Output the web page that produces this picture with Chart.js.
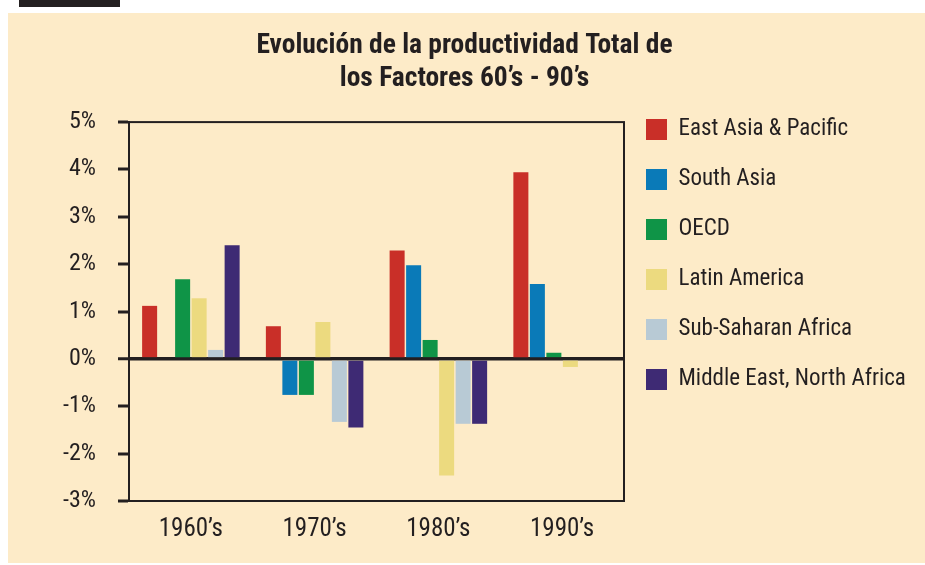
<!DOCTYPE html>
<html>
<head>
<meta charset="utf-8">
<script src="https://cdn.jsdelivr.net/npm/chart.js@4"></script>
<style>
  html, body { margin: 0; padding: 0; background: #ffffff; }
  #wrap { position: relative; width: 925px; height: 565px; overflow: hidden; }
  #tab { position: absolute; left: 19px; top: 0; width: 101px; height: 7px; background: #231f20; }
  #panel { position: absolute; left: 8px; top: 13px; width: 917px; height: 550px; background: #fdebc8; }
  #chart { position: absolute; left: 0; top: 0; }
</style>
</head>
<body>
<div id="wrap">
  <div id="tab"></div>
  <div id="panel"></div>
  <canvas id="chart" width="925" height="565"></canvas>
</div>
<script>
const decades = ["1960’s", "1970’s", "1980’s", "1990’s"];
const yTicks = [-3, -2, -1, 0, 1, 2, 3, 4, 5];

// valores (%)
const eastAsia    = [1.12, 0.69, 2.29, 3.94];
const southAsia   = [null, -0.76, 1.98, 1.58];
const oecd        = [1.68, -0.76, 0.40, 0.13];
const latinAm     = [1.28, 0.78, -2.46, -0.17];
const subSahara   = [0.19, -1.33, -1.37, null];
const middleEast  = [2.40, -1.45, -1.37, null];

const seriesNames = ["East Asia & Pacific", "South Asia", "OECD", "Latin America", "Sub-Saharan Africa", "Middle East, North Africa"];
const seriesColors = ["#c92f28", "#0a7ab8", "#0f9447", "#ecda7f", "#b8cad5", "#3e2a74"];

const ink = "#231f20";
const narrow = "'Roboto Condensed', 'DejaVu Sans Condensed', sans-serif";

const allSeries = [eastAsia, southAsia, oecd, latinAm, subSahara, middleEast];

// marco del área de dibujo
const frameBox = {
    id: "frameBox",
    afterDatasetsDraw(chart) {
        const { ctx, chartArea: a } = chart;
        ctx.save();
        ctx.strokeStyle = ink;
        ctx.lineWidth = 2;
        ctx.strokeRect(a.left, a.top, a.right - a.left, a.bottom - a.top);
        ctx.restore();
    }
};

// la leyenda de la derecha queda limitada a la mitad del ancho libre; la ensanchamos
const wideLegend = {
    id: "wideLegend",
    beforeLayout(chart) {
        const lg = chart.legend;
        if (lg && !lg._wide) {
            const fit = lg.fit;
            lg.fit = function() { fit.call(this); this.width = 297; };
            lg._wide = true;
        }
    },
    afterLayout(chart) {
        // acercar un poco la leyenda al gráfico
        const lg = chart.legend;
        if (lg) { lg.left -= 5; lg.right -= 5; }
    }
};

new Chart(document.getElementById("chart").getContext("2d"), {
    type: "bar",
    data: {
        labels: decades,
        datasets: allSeries.map((vals, i) => ({
            label: seriesNames[i],
            data: vals,
            backgroundColor: seriesColors[i],
            borderWidth: 0,
            categoryPercentage: 0.8,
            barPercentage: 0.91
        }))
    },
    options: {
        responsive: false,
        animation: false,
        layout: { padding: { left: 8, top: 0, right: 4, bottom: 0 } },
        plugins: {
            tooltip: { enabled: false },
            title: {
                display: true,
                text: ["Evolución de la productividad Total de", "los Factores 60’s - 90’s"],
                color: ink,
                font: { family: narrow, size: 27.5, weight: "bold", lineHeight: 1.22 },
                padding: { top: 29, bottom: 26 }
            },
            legend: {
                position: "right",
                align: "start",
                title: { display: true, text: " ", font: { size: 10 }, padding: { top: 79, bottom: 0 } },
                labels: {
                    color: ink,
                    font: { family: narrow, size: 23 },
                    boxWidth: 21,
                    boxHeight: 21,
                    padding: 27
                }
            }
        },
        scales: {
            x: {
                grid: { display: false },
                border: { display: true, color: ink, width: 2 },
                ticks: { color: ink, font: { family: narrow, size: 25 }, padding: 6 },
                afterFit: s => { s.height = 64; }
            },
            y: {
                min: -3,
                max: 5,
                afterBuildTicks: s => { s.ticks = yTicks.map(v => ({ value: v })); },
                afterFit: s => { s.width = 121; },
                z: 1,
                border: { display: true, color: ink, width: 2 },
                grid: {
                    color: ink,
                    lineWidth: c => (c.tick && c.tick.value === 0 ? 3.5 : 0),
                    drawTicks: true,
                    tickLength: 11,
                    tickWidth: 3,
                    tickColor: ink
                },
                ticks: {
                    color: ink,
                    font: { family: narrow, size: 24 },
                    padding: 22,
                    callback: v => v + "%"
                }
            }
        }
    },
    plugins: [frameBox, wideLegend]
});
</script>
</body>
</html>
